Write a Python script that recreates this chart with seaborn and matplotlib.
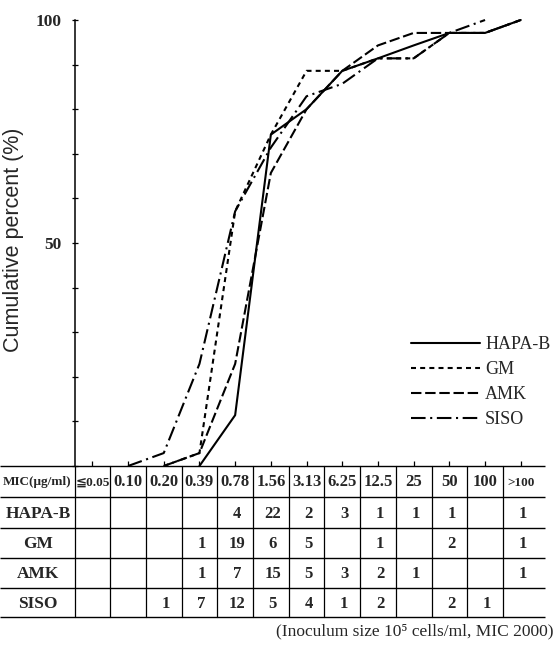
import matplotlib
matplotlib.use("Agg")
import matplotlib.pyplot as plt
import seaborn as sns
import pandas as pd

# ---------------- data ----------------
mic_labels = ['≦0.05', '0.10', '0.20', '0.39', '0.78', '1.56', '3.13',
              '6.25', '12.5', '25', '50', '100', '>100']
drugs = ['HAPA-B', 'GM', 'AMK', 'SISO']

# counts in the table (None = empty cell)
hapa_counts = [None, None, None, None, 4, 22, 2, 3, 1, 1, 1, None, 1]
gm_counts = [None, None, None, 1, 19, 6, 5, None, 1, None, 2, None, 1]
amk_counts = [None, None, None, 1, 7, 15, 5, 3, 2, 1, None, None, 1]
siso_counts = [None, None, 1, 7, 12, 5, 4, 1, 2, None, 2, 1, None]

# cumulative percent curves (first MIC index)
hapa_start, hapa_pct = 3, [0, 11.4, 74.3, 80.0, 88.6, 91.4, 94.3, 97.1, 97.1, 100]
gm_start, gm_pct = 2, [0, 2.9, 57.1, 74.3, 88.6, 88.6, 91.4, 91.4, 97.1, 97.1, 100]
amk_start, amk_pct = 2, [0, 2.9, 22.9, 65.7, 80.0, 88.6, 94.3, 97.1, 97.1, 97.1, 100]
siso_start, siso_pct = 1, [0, 2.9, 22.9, 57.1, 71.4, 82.9, 85.7, 91.4, 91.4, 97.1, 100]

footnote = '(Inoculum size 10\u2075 cells/ml, MIC 2000)'
ylabel = 'Cumulative percent (%)'

# ---------------- build long-form frame ----------------
rows = []
for name, start, pct in [('HAPA-B', hapa_start, hapa_pct), ('GM', gm_start, gm_pct),
                         ('AMK', amk_start, amk_pct), ('SISO', siso_start, siso_pct)]:
    for k, v in enumerate(pct):
        rows.append({'drug': name, 'pos': start + k, 'pct': v})
df = pd.DataFrame(rows)

sns.set_style('white')
serif = ['Liberation Serif', 'DejaVu Serif', 'DejaVu Sans']
sans = ['Liberation Sans', 'DejaVu Sans']
plt.rcParams['font.family'] = serif

W, H = 559, 645
fig = plt.figure(figsize=(W / 100, H / 100), dpi=100)

# table / background axes in pixel coordinates
tax = fig.add_axes([0, 0, 1, 1])
tax.set_xlim(0, W)
tax.set_ylim(H, 0)
tax.axis('off')

x0, cw = 74.5, 35.7
ncol = len(mic_labels)
row_y = [466, 497, 528, 558, 588, 617]
line_right = 545

for y in row_y:
    tax.plot([0, line_right], [y, y], color='black', lw=1.0, solid_capstyle='butt')
for k in range(ncol):
    xx = x0 + cw * k
    tax.plot([xx, xx], [row_y[0], row_y[-1]], color='black', lw=0.9)

# header row
tax.text(3, (row_y[0] + row_y[1]) / 2 + 1, 'MIC(μg/ml)', ha='left', va='center',
         fontsize=9.5, fontweight='bold', family=serif)
for i, lab in enumerate(mic_labels):
    small = lab.startswith('≦') or lab.startswith('>')
    tax.text(x0 + cw * (i + 0.5), (row_y[0] + row_y[1]) / 2 + 1, lab, ha='center',
             va='center', fontsize=9.5 if small else 12, fontweight='bold', family=serif)

all_counts = [hapa_counts, gm_counts, amk_counts, siso_counts]
for r, (name, counts) in enumerate(zip(drugs, all_counts)):
    yc = (row_y[r + 1] + row_y[r + 2]) / 2 + 1
    tax.text(38, yc, name, ha='center', va='center', fontsize=12.5,
             fontweight='bold', family=serif)
    for i, c in enumerate(counts):
        if c is not None:
            tax.text(x0 + cw * (i + 0.5) + 2, yc, str(c), ha='center', va='center',
                     fontsize=12, fontweight='bold', family=serif)

tax.text(554, 631, footnote, ha='right', va='center', fontsize=12.5, family=serif)

# ---------------- main plot ----------------
ax_left = x0 / W
ax_w = cw * ncol / W
ax_bottom = (H - 466) / H
ax_h = (466 - 20) / H
ax = fig.add_axes([ax_left, ax_bottom, ax_w, ax_h])
ax.patch.set_alpha(0)

dash_map = {'HAPA-B': '', 'GM': (2.4, 2.0), 'AMK': (5.0, 1.8), 'SISO': (7.0, 2.2, 1.0, 2.2)}
sns.lineplot(data=df, x='pos', y='pct', hue='drug', style='drug', hue_order=drugs,
             style_order=drugs, palette=['black'] * 4, dashes=dash_map,
             estimator=None, sort=False, linewidth=1.5, ax=ax, clip_on=False)

ax.set_xlim(-0.5, ncol - 0.5)
ax.set_ylim(0, 100)
for s in ['top', 'right', 'bottom']:
    ax.spines[s].set_visible(False)
ax.spines['left'].set_linewidth(1.1)
ax.spines['left'].set_color('black')

ax.set_xticks(range(ncol))
ax.set_xticklabels([''] * ncol)
ax.tick_params(axis='x', direction='in', length=3.5, width=0.9, color='black', bottom=True)
ax.set_yticks(range(0, 101, 10))
ax.set_yticklabels(['' if v not in (50, 100) else str(v) for v in range(0, 101, 10)])
ax.tick_params(axis='y', direction='inout', length=5, width=0.9, color='black', left=True,
               pad=7, labelsize=12.5)
for t in ax.get_yticklabels():
    t.set_fontweight('bold')
    t.set_family(serif)
ax.set_xlabel('')
ax.set_ylabel(ylabel, fontsize=15.5, family=sans)
ax.yaxis.set_label_coords((3 - x0) / (cw * ncol), (466 - 240) / 446)
ax.yaxis.label.set_va('top')

handles, labels = ax.get_legend_handles_labels()
leg = ax.legend(handles, labels, loc='upper left',
                bbox_to_anchor=(411 / W, 1 - 336 / H), bbox_transform=fig.transFigure,
                frameon=False, fontsize=13, handlelength=3.8, handletextpad=0.3,
                labelspacing=0.45, borderpad=0, borderaxespad=0)
for t in leg.get_texts():
    t.set_family(serif)

fig.savefig('out.png', dpi=100)
